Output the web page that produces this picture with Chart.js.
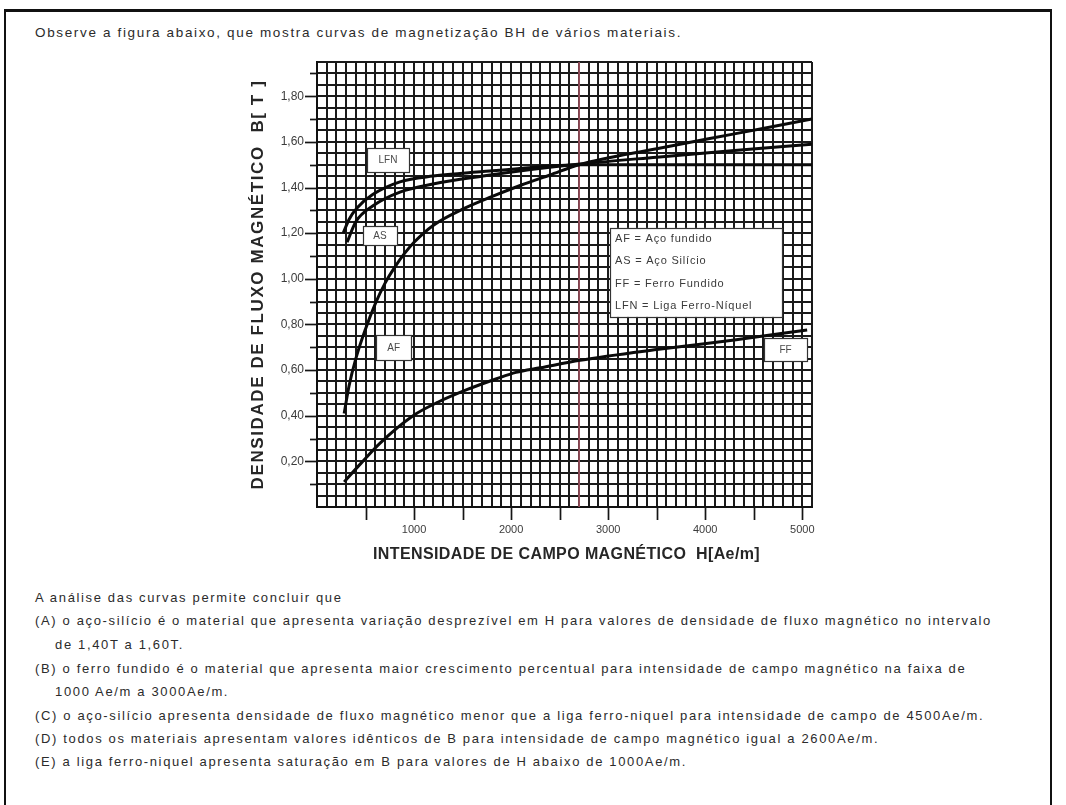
<!DOCTYPE html>
<html lang="pt">
<head>
<meta charset="utf-8">
<title>Curvas de magnetização BH</title>
<script src="https://cdn.jsdelivr.net/npm/chart.js@4.4.1/dist/chart.umd.min.js"></script>
<style>
  html, body { margin: 0; padding: 0; background: #fff; }
  body { width: 1066px; height: 805px; position: relative; overflow: hidden;
         font-family: "Liberation Sans", Arial, sans-serif; color: #2b2b2b; }
  .frame { position: absolute; left: 4px; top: 9px; width: 1044px; height: 820px;
           border-left: 2px solid #111; border-top: 3px solid #111; border-right: 2px solid #111; }
  .line { position: absolute; left: 35px; font-size: 13px; letter-spacing: 1.65px;
          white-space: nowrap; line-height: 16px; }
  .intro { font-size: 13.5px; letter-spacing: 1.65px; }
  .ind { left: 55px; }
  #wrap { position: absolute; left: 200px; top: 40px; width: 700px; height: 540px; }
</style>
</head>
<body>
<div class="frame"></div>
<div class="line intro" style="top:25px">Observe a figura abaixo, que mostra curvas de magnetização BH de vários materiais.</div>
<div id="wrap"><canvas id="bh" width="700" height="540"></canvas></div>
<div class="line" style="top:590px">A análise das curvas permite concluir que</div>
<div class="line" style="top:613px">(A) o aço-silício é o material que apresenta variação desprezível em H para valores de densidade de fluxo magnético no intervalo</div>
<div class="line ind" style="top:637px">de 1,40T a 1,60T.</div>
<div class="line" style="top:661px">(B) o ferro fundido é o material que apresenta maior crescimento percentual para intensidade de campo magnético na faixa de</div>
<div class="line ind" style="top:684px">1000 Ae/m a 3000Ae/m.</div>
<div class="line" style="top:708px">(C) o aço-silício apresenta densidade de fluxo magnético menor que a liga ferro-niquel para intensidade de campo de 4500Ae/m.</div>
<div class="line" style="top:731px">(D) todos os materiais apresentam valores idênticos de B para intensidade de campo magnético igual a 2600Ae/m.</div>
<div class="line" style="top:754px">(E) a liga ferro-niquel apresenta saturação em B para valores de H abaixo de 1000Ae/m.</div>

<script>
// Magnetization curves: H in Ae/m, B in tesla
const hAF  = [280, 330, 400, 500, 600, 700, 800, 900, 1000, 1200, 1500, 1800, 2100, 2400, 2700, 3500, 4300, 5100];
const bAF  = [0.41, 0.53, 0.65, 0.78, 0.89, 0.98, 1.05, 1.11, 1.16, 1.235, 1.305, 1.36, 1.41, 1.455, 1.50, 1.57, 1.635, 1.70];

const hAS  = [310, 400, 577, 855, 1195, 1710, 2225, 2710, 3500, 4300, 5100];
const bAS  = [1.16, 1.25, 1.32, 1.38, 1.415, 1.45, 1.48, 1.503, 1.533, 1.562, 1.59];

const hLFN = [270, 330, 412, 577, 855, 1195, 1710, 2225, 2710, 3500, 4300, 5100];
const bLFN = [1.20, 1.26, 1.31, 1.37, 1.425, 1.45, 1.47, 1.488, 1.50, 1.50, 1.50, 1.50];

const hFF  = [280, 450, 650, 990, 1250, 1550, 1850, 2050, 2300, 2710, 3500, 4300, 5050];
const bFF  = [0.11, 0.19, 0.28, 0.40, 0.46, 0.515, 0.562, 0.59, 0.61, 0.643, 0.69, 0.732, 0.776];

// reference field strength marked in red
const markerH = [2700, 2700];
const markerB = [0, 1.95];

// axis tick labels
const xTickValues = [1000, 2000, 3000, 4000, 5000];
const xTickLabels = ['1000', '2000', '3000', '4000', '5000'];
const yTickValues = [0.2, 0.4, 0.6, 0.8, 1.0, 1.2, 1.4, 1.6, 1.8];
const yTickLabels = ['0,20', '0,40', '0,60', '0,80', '1,00', '1,20', '1,40', '1,60', '1,80'];

// curve names and legend text
const curveNames = ['LFN', 'AS', 'AF', 'FF'];
const legendLines = ['AF = Aço fundido', 'AS = Aço Silício', 'FF = Ferro Fundido', 'LFN = Liga Ferro-Níquel'];

const xTitle = 'INTENSIDADE DE CAMPO MAGNÉTICO  H[Ae/m]';
const yTitle = 'DENSIDADE DE FLUXO MAGNÉTICO  B[ T ]';

const pts = (hs, bs) => hs.map((h, i) => ({ x: h, y: bs[i] }));

// name tags placed in data space (centre H, centre B), box size in px
const tagLayout = {
  LFN: { h: 731, b: 1.52,  w: 42, ht: 24 },
  AS:  { h: 649, b: 1.188, w: 34, ht: 19 },
  AF:  { h: 790, b: 0.697, w: 35, ht: 25 },
  FF:  { h: 4827, b: 0.69, w: 43, ht: 23 }
};
const legendLayout = { h0: 3019, h1: 4791, b0: 1.223, b1: 0.833 };

const FONT = '"Liberation Sans", Arial, sans-serif';

const decor = {
  id: 'bhDecor',
  afterDraw(chart) {
    const { ctx, chartArea: a, scales: { x, y } } = chart;
    ctx.save();

    // tick marks outside the grid
    ctx.strokeStyle = '#151515';
    ctx.lineWidth = 1.7;
    x.ticks.forEach(t => {
      const v = t.value;
      if (v > 0 && v <= 5000 && v % 500 === 0) {
        const px = Math.round(x.getPixelForValue(v)) + 0.5;
        ctx.beginPath(); ctx.moveTo(px, a.bottom); ctx.lineTo(px, a.bottom + 13); ctx.stroke();
      }
    });
    y.ticks.forEach(t => {
      const v = t.value;
      const tenth = Math.round(v * 10);
      if (v > 0.05 && v < 1.93 && Math.abs(v * 10 - tenth) < 1e-6) {
        const labelled = yTickValues.some(u => Math.abs(u - v) < 1e-6);
        const py = Math.round(y.getPixelForValue(v)) + 0.5;
        ctx.beginPath(); ctx.moveTo(a.left, py); ctx.lineTo(a.left - (labelled ? 12 : 7), py); ctx.stroke();
      }
    });

    // curve name tags
    ctx.textAlign = 'center';
    ctx.textBaseline = 'middle';
    ctx.font = '10px ' + FONT;
    curveNames.forEach(name => {
      const L = tagLayout[name];
      const cx = x.getPixelForValue(L.h), cy = y.getPixelForValue(L.b);
      const l = Math.round(cx - L.w / 2) + 0.5, tp = Math.round(cy - L.ht / 2) + 0.5;
      ctx.fillStyle = '#fff';
      ctx.fillRect(l, tp, L.w, L.ht);
      ctx.strokeStyle = '#333'; ctx.lineWidth = 1.2;
      ctx.strokeRect(l, tp, L.w, L.ht);
      ctx.fillStyle = '#4a4a4a';
      ctx.fillText(name, cx, cy + 0.5);
    });

    // legend box
    const lx0 = x.getPixelForValue(legendLayout.h0), lx1 = x.getPixelForValue(legendLayout.h1);
    const ly0 = y.getPixelForValue(legendLayout.b0), ly1 = y.getPixelForValue(legendLayout.b1);
    ctx.fillStyle = '#fff';
    ctx.fillRect(lx0, ly0, lx1 - lx0, ly1 - ly0);
    ctx.strokeStyle = '#333'; ctx.lineWidth = 1.2;
    ctx.strokeRect(Math.round(lx0) + 0.5, Math.round(ly0) + 0.5, Math.round(lx1 - lx0), Math.round(ly1 - ly0));
    ctx.textAlign = 'left';
    ctx.font = '11px ' + FONT;
    ctx.letterSpacing = '0.8px';
    ctx.fillStyle = '#3a3a3a';
    legendLines.forEach((s, i) => ctx.fillText(s, lx0 + 5, ly0 + 11 + i * 22.3));

    // axis titles
    ctx.fillStyle = '#262626';
    ctx.textAlign = 'center';
    ctx.font = 'bold 16px ' + FONT;
    ctx.letterSpacing = '0.4px';
    ctx.fillText(xTitle, (a.left + a.right) / 2 + 2, a.bottom + 48);

    ctx.translate(a.left - 59, (a.top + a.bottom) / 2);
    ctx.rotate(-Math.PI / 2);
    ctx.font = 'bold 17px ' + FONT;
    ctx.letterSpacing = '1.6px';
    ctx.fillText(yTitle, 0, 0);

    ctx.restore();
  }
};

const lineStyle = {
  borderColor: '#0a0a0a', borderWidth: 3, pointRadius: 0,
  cubicInterpolationMode: 'monotone', fill: false
};

new Chart(document.getElementById('bh'), {
  type: 'line',
  data: {
    datasets: [
      { label: 'H ref', data: pts(markerH, markerB), borderColor: 'rgba(226,110,130,0.75)',
        borderWidth: 1.5, pointRadius: 0, fill: false, order: 5 },
      { label: 'AF',  data: pts(hAF, bAF),   ...lineStyle },
      { label: 'AS',  data: pts(hAS, bAS),   ...lineStyle },
      { label: 'LFN', data: pts(hLFN, bLFN), ...lineStyle },
      { label: 'FF',  data: pts(hFF, bFF),   ...lineStyle }
    ]
  },
  options: {
    responsive: false,
    animation: false,
    devicePixelRatio: 1,
    layout: { padding: { left: 0, top: 22, right: 88, bottom: 0 } },
    plugins: { legend: { display: false }, tooltip: { enabled: false } },
    scales: {
      x: {
        type: 'linear', min: 0, max: 5100,
        ticks: {
          stepSize: 100, autoSkip: false, maxRotation: 0, padding: 16,
          font: { family: FONT, size: 11 }, color: '#3c3c3c',
          callback: v => { const i = xTickValues.indexOf(v); return i >= 0 ? xTickLabels[i] : ''; }
        },
        grid: { color: '#1a1a1a', lineWidth: 2, drawTicks: false },
        border: { color: '#111', width: 2 },
        afterFit: s => { s.height = 73; }
      },
      y: {
        type: 'linear', min: 0, max: 1.95,
        ticks: {
          stepSize: 0.05, autoSkip: false, padding: 13,
          font: { family: FONT, size: 12 }, color: '#3c3c3c',
          callback: v => { const i = yTickValues.findIndex(u => Math.abs(u - v) < 1e-6); return i >= 0 ? yTickLabels[i] : ''; }
        },
        grid: { color: '#1a1a1a', lineWidth: 2, drawTicks: false },
        border: { color: '#111', width: 2 },
        afterFit: s => { s.width = 117; }
      }
    }
  },
  plugins: [decor]
});
</script>
</body>
</html>
